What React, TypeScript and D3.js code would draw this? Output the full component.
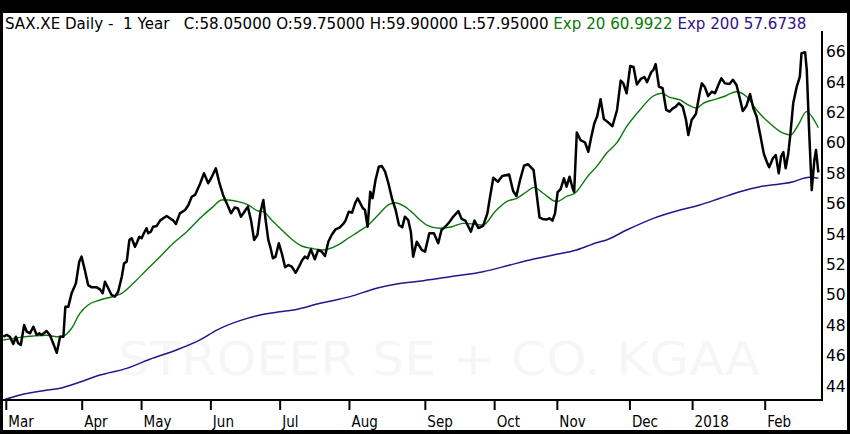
import * as d3 from "d3";

// trading-day index, close
const closeSeries: [number, number][] = [
  [0.1, 47.24], [1.1, 47.36], [2.1, 47.24], [3.1, 46.76], [3.9, 47.24], [4.6, 46.81], [5.4, 46.7],
  [6.4, 48.01], [7.2, 47.57], [8.2, 47.47], [9.2, 47.9], [10.2, 47.36], [11, 47.47], [11.7, 47.36],
  [12.4, 47.47], [13.2, 47.62], [14.2, 47.36], [15.2, 46.81], [16.3, 46.19], [17.3, 47.24], [18.3, 47.24],
  [18.9, 49.22], [19.8, 49.22], [20.8, 50.1], [22.1, 50.76], [23.1, 52.18], [23.8, 52.51], [24.8, 51.63],
  [25.8, 50.64], [26.9, 50.49], [28.4, 50.49], [29.4, 50.36], [30.2, 50.1], [30.9, 50.86], [31.9, 50.43],
  [32.9, 49.99], [33.9, 49.88], [34.9, 50.2], [36, 51.19], [36.7, 52.07], [37.5, 52.18], [38.3, 53.61],
  [39, 53.72], [40, 53.16], [40.7, 53.49], [41.3, 53.82], [42, 53.72], [42.7, 54.05], [43.5, 54.38],
  [44, 54.05], [44.8, 54.15], [45.5, 54.48], [46.6, 54.53], [47.6, 54.88], [48.6, 55.03], [49.6, 55.18],
  [50.6, 55.03], [51.6, 54.89], [52.4, 54.66], [53.6, 55.36], [55.2, 55.58], [56.2, 55.91], [57.2, 56.45],
  [58.2, 56.57], [59.7, 57.29], [60.9, 57.99], [62.2, 57.34], [63.2, 57.72], [64.5, 58.32], [65.6, 57.34],
  [66.8, 56.5], [67.9, 55.97], [69.1, 55.36], [70.2, 55.74], [71.2, 55.68], [72.1, 55.14], [73, 55.41],
  [74.2, 55.8], [75.2, 54.86], [76.1, 53.61], [77.1, 53.93], [78, 55.41], [78.9, 56.24], [79.6, 54.92],
  [80.4, 53.61], [81, 53.16], [81.8, 52.4], [82.6, 52.51], [83.6, 53.39], [84.5, 52.73], [85.5, 51.81],
  [86.5, 51.96], [87.5, 51.85], [88.7, 51.45], [89.7, 51.85], [90.7, 52.29], [91.5, 52.51], [92.3, 52.4],
  [93.3, 52.99], [94.5, 52.34], [95.5, 52.95], [96.6, 52.84], [97.6, 52.55], [98.6, 53.49], [99.6, 53.93],
  [100.8, 54.31], [102.1, 54.44], [103.1, 54.66], [103.8, 54.88], [104.8, 55.47], [105.8, 55.4],
  [106.7, 56.02], [107.5, 56.35], [108.3, 56.02], [109.1, 55.69], [109.7, 55.58], [110.5, 54.48],
  [111.3, 56.78], [112, 56.35], [112.9, 57.55], [113.9, 58.43], [114.8, 58.47], [115.8, 58.1],
  [116.8, 57.34], [118, 56.24], [119, 55.58], [120, 54.59], [121, 54.44], [121.8, 55.14], [122.8, 54.92],
  [123.6, 54.15], [124.3, 52.51], [125.4, 53.49], [126.9, 52.95], [127.9, 52.84], [129.2, 54.05],
  [130.6, 54.05], [131.9, 53.39], [132.9, 54.26], [134.1, 54.49], [135.3, 54.79], [136.5, 55.15],
  [138, 55.51], [139, 54.99], [140.2, 54.86], [141.8, 54.15], [142.9, 54.88], [144.1, 54.39],
  [145.5, 54.53], [146.8, 55.36], [147.6, 56.43], [148.6, 57.7], [150, 57.44], [151.3, 57.82],
  [153.4, 57.91], [154.6, 56.83], [155.6, 56.5], [156.7, 57.55], [157.9, 58.49], [159.1, 58.59],
  [160.8, 58.21], [161.7, 56.68], [162.6, 55.09], [163.5, 54.99], [164.7, 54.95], [165.6, 55.03],
  [166.5, 54.88], [167.3, 55.36], [168.1, 56.76], [169, 56.96], [170, 57.66], [170.8, 57.11],
  [171.7, 57.77], [172.7, 56.96], [173.1, 56.76], [173.9, 60.68], [175, 60.18], [176.4, 60.02],
  [177.4, 59.41], [178.3, 60.4], [179.2, 61.27], [180.1, 61.76], [181.1, 62.86], [182.1, 61.57],
  [183.3, 61.36], [184.7, 61.09], [186.1, 62.16], [187.2, 64.09], [188, 63.91], [189, 63.26],
  [190.1, 65.05], [191.1, 64.99], [192.1, 63.84], [193.3, 64.2], [194.4, 64.33], [195.2, 63.99],
  [196.4, 64.63], [197.1, 64.79], [197.8, 65.18], [198.8, 63.69], [199.9, 63.59], [201, 62.16],
  [202, 62.05], [203, 62.27], [203.9, 62.38], [204.8, 62.6], [206, 62.38], [207, 61.5], [207.7, 60.51],
  [208.7, 61.5], [210, 61.89], [211.2, 63.34], [211.8, 63.91], [212.7, 63.67], [213.7, 63.08],
  [214.8, 63.36], [215.8, 63.26], [216.8, 63.8], [217.7, 64.24], [218.8, 63.91], [220.2, 63.87],
  [221.2, 64.15], [222.3, 63.8], [223.3, 62.93], [224.2, 62.09], [225.3, 62.42], [226.4, 63.21],
  [227.4, 62.27], [228.4, 61.72], [229.5, 60.51], [230.6, 59.26], [231.5, 58.74], [232.2, 58.39],
  [233.3, 58.97], [234.2, 59.2], [235.1, 57.99], [235.8, 59.1], [236.5, 59.39], [237.2, 58.32],
  [238, 59.31], [238.6, 60.51], [239.5, 62.62], [240.5, 63.64], [241.5, 64.35], [242, 65.89],
  [243.1, 65.96], [243.6, 64.79], [244.3, 60.84], [245.1, 56.89], [245.9, 58.87], [246.4, 59.53],
  [247.1, 58.05],
];

const ema20Series: [number, number][] = [
  [0.1, 47.03], [5.2, 47.2], [9.2, 47.29], [13.2, 47.34], [16.3, 47.24], [18.3, 47.29], [20.8, 47.8],
  [23.3, 48.78], [25.8, 49.33], [29.4, 49.66], [33.9, 49.92], [36, 50.1], [39.5, 50.76], [43.5, 51.63],
  [47.6, 52.51], [51.6, 53.39], [55.7, 54.15], [59.7, 55.03], [63.7, 55.8], [66.3, 56.24], [68.3, 56.24],
  [71.3, 56.13], [74.3, 55.91], [77.4, 55.51], [78.9, 55.47], [81.4, 54.92], [84.5, 54.26], [87.5, 53.65],
  [90.5, 53.21], [93.5, 53.06], [96.6, 52.95], [98.6, 53.01], [101.6, 53.28], [104.6, 53.72],
  [107.7, 54.15], [110.7, 54.59], [113.7, 55.25], [116.8, 55.91], [118.8, 56.06], [121.8, 55.8],
  [124.3, 55.36], [126.4, 54.92], [128.4, 54.59], [132.4, 54.38], [136, 54.48], [139.5, 54.7],
  [142.5, 54.66], [145.5, 54.59], [149.1, 55.47], [152.6, 56.13], [155.7, 56.35], [158.7, 56.78],
  [160.9, 57.07], [163.7, 56.68], [167.8, 56.13], [170.8, 56.47], [173.3, 56.68], [177.3, 57.82],
  [179.9, 58.43], [182.9, 59.31], [186, 59.99], [189, 61.06], [193, 62.16], [197.1, 63.08],
  [199.6, 63.26], [202.1, 62.99], [205.2, 62.82], [207.7, 62.49], [210.2, 62.27], [212.2, 62.6],
  [215.2, 62.82], [218.3, 63.03], [222.3, 63.36], [225.4, 63.03], [228.4, 62.16], [232.4, 61.28],
  [236.5, 60.63], [238.7, 60.51], [241, 61.17], [243.5, 62.05], [245.5, 61.61], [247.1, 60.99],
];

const ema200Series: [number, number][] = [
  [0.1, 43.08], [5.2, 43.41], [12.2, 43.69], [17.3, 43.85], [22.3, 44.18], [29.4, 44.72], [37.5, 45.16],
  [44.5, 45.76], [52.6, 46.37], [59.7, 47.03], [64.8, 47.68], [71.8, 48.3], [77.9, 48.67], [83.9, 48.89],
  [88, 49.0], [96.1, 49.44], [105.2, 49.88], [113.2, 50.43], [119.3, 50.71], [127.4, 50.93],
  [135.5, 51.19], [145.5, 51.52], [153.6, 51.96], [159.7, 52.29], [166.8, 52.62], [173.8, 52.95],
  [179.9, 53.43], [182.9, 53.61], [189, 54.26], [197.1, 55.03], [205.2, 55.58], [211.2, 55.91],
  [217.3, 56.35], [223.3, 56.78], [229.4, 57.11], [235.5, 57.29], [239.5, 57.44], [242.5, 57.66],
  [244.5, 57.73], [247.1, 57.67],
];

const monthTicks = [1, 24, 42, 63, 84, 105, 128, 149, 168, 190, 209, 231];
const monthLabels = ["Mar", "Apr", "May", "Jun", "Jul", "Aug", "Sep", "Oct", "Nov", "Dec", "2018", "Feb"];
const priceTicks = [44, 46, 48, 50, 52, 54, 56, 58, 60, 62, 64, 66];

const CLOSE_COLOR = "#000000";
const EMA20_COLOR = "#0a7a0a";
const EMA200_COLOR = "#2c128c";
const W = 850;
const H = 434;

export default function App() {
  const x = d3.scaleLinear().domain([0, 247]).range([3, 818]);
  const y = d3.scaleLinear().domain([44, 66]).range([386, 51.6]);

  const line = d3.line<[number, number]>().x((d) => x(d[0])).y((d) => y(d[1]));
  const smooth = d3
    .line<[number, number]>()
    .x((d) => x(d[0]))
    .y((d) => y(d[1]))
    .curve(d3.curveMonotoneX);

  const axisX = 822;
  const axisY = 400;

  return (
    <>
      <style>{`body{margin:0}`}</style>
      <svg width={W} height={H} style={{ display: "block" }}>
        <rect x={0} y={0} width={W} height={H} fill="#fff" />
        <defs>
          <clipPath id="plot">
            <rect x={3} y={13} width={axisX - 3} height={axisY - 13} />
          </clipPath>
        </defs>

        {/* Watermark */}
        <text
          x={118}
          y={375}
          textLength={642}
          lengthAdjust="spacingAndGlyphs"
          fontFamily="DejaVu Sans"
          fontSize={46}
          fill="#f6f6f6"
        >
          STROEER SE + CO. KGAA
        </text>

        {/* Lines */}
        <g clipPath="url(#plot)" fill="none">
          <path d={smooth(ema200Series) || ""} stroke={EMA200_COLOR} strokeWidth={1.5} />
          <path d={smooth(ema20Series) || ""} stroke={EMA20_COLOR} strokeWidth={1.4} />
          <path d={line(closeSeries) || ""} stroke={CLOSE_COLOR} strokeWidth={2.5} strokeLinejoin="round" />
        </g>

        {/* Axis lines */}
        <line x1={axisX} x2={axisX} y1={31} y2={axisY + 1} stroke="#000" strokeWidth={2} />
        <line x1={2} x2={axisX + 1} y1={axisY} y2={axisY} stroke="#000" strokeWidth={2} />

        {/* Right price labels */}
        <g fontFamily="DejaVu Sans" fontSize={15.5} fill="#000">
          {priceTicks.map((t) => (
            <text key={t} x={826} y={y(t)} dy="0.36em">
              {t}
            </text>
          ))}
        </g>

        {/* Bottom month ticks */}
        <g>
          {monthTicks.map((t, i) => (
            <g key={t} transform={`translate(${x(t)},0)`}>
              <line y1={axisY} y2={axisY + 10} stroke="#000" strokeWidth={2} />
              <text
                x={2}
                y={427}
                fontFamily="DejaVu Sans Condensed"
                fontSize={15}
                fill="#000"
              >
                {monthLabels[i]}
              </text>
            </g>
          ))}
        </g>

        {/* Header */}
        <text x={5} y={29} fontFamily="DejaVu Sans" fontSize={15.1} fill="#000" style={{ whiteSpace: "pre" }}>
          <tspan>{"SAX.XE Daily -  1 Year   C:58.05000 O:59.75000 H:59.90000 L:57.95000 "}</tspan>
          <tspan fill={EMA20_COLOR}>{"Exp 20 60.9922 "}</tspan>
          <tspan fill={EMA200_COLOR}>{"Exp 200 57.6738"}</tspan>
        </text>

        {/* Frame */}
        <rect x={0} y={0} width={W} height={13} fill="#000" />
        <rect x={0} y={0} width={3} height={H} fill="#000" />
        <rect x={W - 3} y={0} width={3} height={H} fill="#000" />
        <rect x={0} y={H - 4} width={W} height={4} fill="#000" />
      </svg>
    </>
  );
}
